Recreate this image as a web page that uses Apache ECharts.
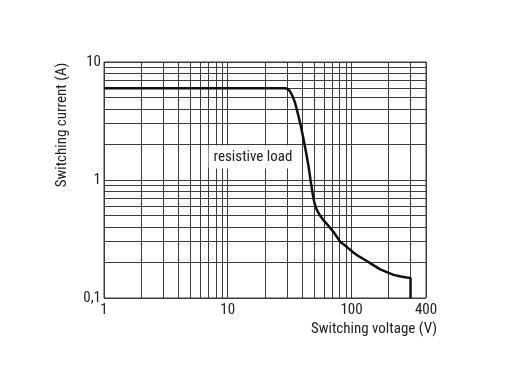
<!DOCTYPE html>
<html>
<head>
<meta charset="utf-8">
<script src="https://cdn.jsdelivr.net/npm/echarts@6/dist/echarts.min.js"></script>
<style>
html,body{margin:0;padding:0;background:#fff;}
#chart{width:519px;height:385px;}
</style>
</head>
<body>
<div id="chart"></div>
<script>
// Data
const curveVoltage = [1, 29, 30, 31, 32, 33.5, 35, 37, 39, 41, 43, 45, 47, 48.5, 50, 52, 55, 60, 65, 72, 81, 92, 104, 115, 129, 150, 171, 195, 219, 250, 280, 300, 300];
const curveCurrent = [6, 6, 5.97, 5.85, 5.6, 5.1, 4.5, 3.6, 2.85, 2.2, 1.7, 1.3, 0.95, 0.77, 0.65, 0.57, 0.51, 0.45, 0.41, 0.36, 0.30, 0.27, 0.242, 0.225, 0.21, 0.19, 0.175, 0.165, 0.157, 0.152, 0.149, 0.148, 0.1];
const xGridValues = [2,3,4,5,6,7,8,9,20,30,40,50,60,70,80,90,200,300];
const yGridValues = [0.2,0.3,0.4,0.5,0.6,0.7,0.8,0.9,2,3,4,5,6,7,8,9];
const xRange = [1, 400];
const yRange = [0.1, 10];
const xAxisTitle = 'Switching voltage (V)';
const yAxisTitle = 'Switching current (A)';
const annotation = 'resistive load';

const FONT = "'Liberation Sans Narrow', 'Roboto Condensed', 'Arial Narrow', Roboto, sans-serif";
const TXT = '#222';
const GRID = '#3c3c3c';

const chart = echarts.init(document.getElementById('chart'));
const markData = xGridValues.map(v => ({xAxis: v})).concat(yGridValues.map(v => ({yAxis: v})));

chart.setOption({
  animation: false,
  backgroundColor: '#fff',
  grid: {left: 104, right: 93, top: 62, bottom: 87, show: true, borderColor: GRID, borderWidth: 1, backgroundColor: 'transparent'},
  xAxis: {
    type: 'log', logBase: 10, min: xRange[0], max: xRange[1],
    axisLine: {show: false}, axisTick: {show: false},
    splitLine: {show: true, lineStyle: {color: GRID, width: 1}},
    axisLabel: {color: TXT, fontSize: 15, fontFamily: FONT, margin: 5, showMaxLabel: true, showMinLabel: true,
      formatter: v => String(Math.round(v))}
  },
  yAxis: {
    type: 'log', logBase: 10, min: yRange[0], max: yRange[1],
    axisLine: {show: false}, axisTick: {show: false},
    splitLine: {show: true, lineStyle: {color: GRID, width: 1}},
    axisLabel: {color: TXT, fontSize: 15, fontFamily: FONT, margin: 3,
      formatter: v => String(+v.toPrecision(3)).replace('.', ',')}
  },
  series: [{
    type: 'line',
    data: curveVoltage.map((v, i) => [v, curveCurrent[i]]),
    showSymbol: false, symbol: 'none',
    lineStyle: {color: '#111', width: 2.5},
    z: 5,
    markLine: {
      silent: true, symbol: ['none', 'none'], label: {show: false},
      lineStyle: {color: GRID, width: 1, type: 'solid'},
      emphasis: {disabled: true},
      data: markData,
      z: 1
    }
  }],
  graphic: [
    {type: 'text', x: 62, y: 125, rotation: Math.PI / 2, z: 100,
      style: {text: yAxisTitle, fill: TXT, font: '15px ' + FONT, textAlign: 'center', textVerticalAlign: 'middle'}},
    {type: 'text', x: 437, y: 329, z: 100,
      style: {text: xAxisTitle, fill: TXT, font: '15px ' + FONT, textAlign: 'right', textVerticalAlign: 'middle'}},
    {type: 'text', x: 253, y: 157, z: 100,
      style: {text: annotation, fill: TXT, font: '15px ' + FONT, textAlign: 'center', textVerticalAlign: 'middle',
        backgroundColor: '#fff', padding: [4, 5]}}
  ]
});
</script>
</body>
</html>
